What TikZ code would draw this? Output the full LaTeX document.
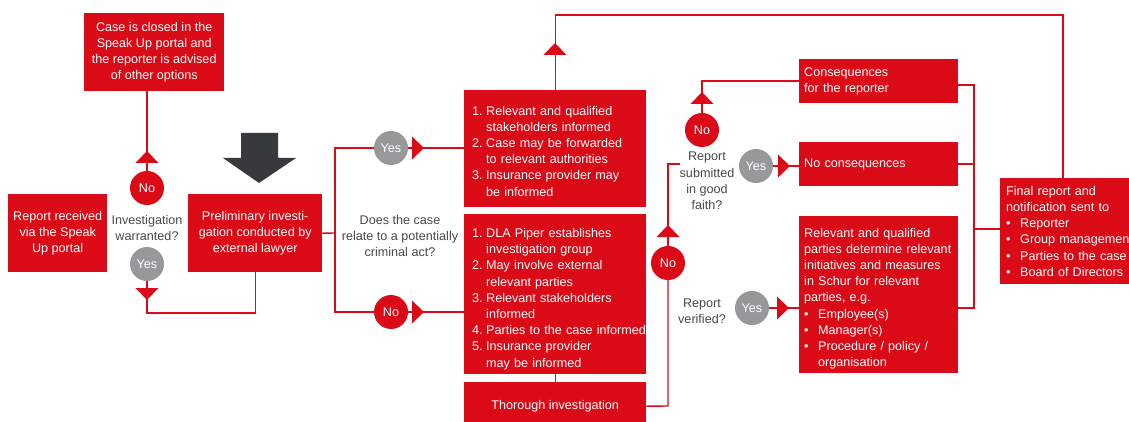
\documentclass[tikz,border=0pt]{standalone}
\usepackage{fontspec}
\setmainfont{Liberation Sans}
\usetikzlibrary{calc}
\definecolor{dlared}{RGB}{218,10,22}
\definecolor{circgray}{RGB}{150,152,154}
\definecolor{darkarrow}{RGB}{55,58,61}
\definecolor{qgray}{RGB}{72,72,72}
\newcommand{\lnum}[1]{\makebox[14pt][l]{#1}}
\newcommand{\lind}{\hspace*{14pt}}
\newcommand{\lbul}{\makebox[14pt][l]{\textbullet}}
\begin{document}
\begin{tikzpicture}[x=1pt,y=-1pt,
  txt/.style={font=\fontsize{12.6}{16.2}\selectfont},
  box/.style={txt, fill=dlared, text=white, inner sep=0pt, anchor=north west, align=center},
  lbox/.style={box, align=left, inner xsep=8pt},
  link/.style={draw=dlared, line width=1.4pt},
  ncirc/.style={circle, fill=dlared, text=white, minimum size=34pt, inner sep=0pt, txt},
  ycirc/.style={ncirc, fill=circgray},
  quest/.style={txt, text=qgray, align=center},
  tri up/.pic={\fill[dlared] (-11.5,6) -- (11.5,6) -- (0,-6) -- cycle;},
  tri down/.pic={\fill[dlared] (-11.5,-6) -- (11.5,-6) -- (0,6) -- cycle;},
  tri right/.pic={\fill[dlared] (-6,-11.5) -- (-6,11.5) -- (6,0) -- cycle;}]
\useasboundingbox (0,0) rectangle (1129,422);
\clip (0,0) rectangle (1129,422);

% boxes
\node[box, minimum width=140pt, minimum height=78pt] (closed) at (84,13) {Case is closed in the\\Speak Up portal and\\the reporter is advised\\of other options};
\node[box, minimum width=99pt, minimum height=78pt] (recv) at (8,194) {Report received\\via the Speak\\Up portal};
\node[box, minimum width=134pt, minimum height=78pt] (prelim) at (188,194) {Preliminary investi-\\gation conducted by\\external lawyer};
\node[lbox, text width=166pt, minimum height=117pt] (crim) at (464,90) {\rule{0pt}{14pt}\lnum{1.}\mbox{Relevant and qualified}\\\lind \mbox{stakeholders informed}\\\lnum{2.}\mbox{Case may be forwarded}\\\lind \mbox{to relevant authorities}\\\lnum{3.}\mbox{Insurance provider may}\\\lind be informed};
\node[lbox, text width=166pt, minimum height=160pt] (inv) at (464,214) {\rule{0pt}{19pt}\lnum{1.}\mbox{DLA Piper establishes}\\\lind \mbox{investigation group}\\\lnum{2.}\mbox{May involve external}\\\lind \mbox{relevant parties}\\\lnum{3.}\mbox{Relevant stakeholders}\\\lind informed\\\lnum{4.}\mbox{Parties to the case informed}\\\lnum{5.}\mbox{Insurance provider}\\\lind \mbox{may be informed}};
\node[box, minimum width=182pt, minimum height=48pt] (thor) at (464,382) {Thorough investigation};
\node[lbox, inner xsep=5pt, text width=149pt, minimum height=44pt] (cons) at (799,59) {Consequences\\for the reporter};
\node[lbox, inner xsep=5pt, text width=149pt, minimum height=44pt] (nocons) at (799,142) {No consequences};
\node[lbox, inner xsep=5pt, text width=149pt, minimum height=157pt] (meas) at (799,216) {\rule{0pt}{17pt}\mbox{Relevant and qualified}\\\mbox{parties determine relevant}\\\mbox{initiatives and measures}\\\mbox{in Schur for relevant}\\parties, e.g.\\\lbul Employee(s)\\\lbul Manager(s)\\\lbul \mbox{Procedure / policy /}\\\lind organisation};
\node[lbox, inner xsep=6pt, text width=150pt, minimum height=106pt] (final) at (1000,178) {Final report and\\\mbox{notification sent to}\\\lbul Reporter\\\lbul \mbox{Group management}\\\lbul \mbox{Parties to the case}\\\lbul \mbox{Board of Directors}};

% dark arrow
\fill[darkarrow] (241,133) -- (278,133) -- (278,158) -- (296,158) -- (259,183) -- (223,158) -- (241,158) -- cycle;

% questions
\node[quest] (qw) at (147,228) {Investigation\\warranted?};
\node[quest] (qc) at (400,236) {Does the case\\relate to a potentially\\criminal act?};
\node[quest] (qg) at (707,181) {Report\\submitted\\in good\\faith?};
\node[quest] (qv) at (702,311) {Report\\verified?};

% circles
\node[ncirc] (wno) at (147,188) {No};
\node[ycirc] (wyes) at (147,264) {Yes};
\node[ycirc] (cyes) at (391,148) {Yes};
\node[ncirc] (cno) at (391,312) {No};
\node[ncirc] (vno) at (668,263) {No};
\node[ycirc] (vyes) at (752,308) {Yes};
\node[ncirc] (gno) at (702,130) {No};
\node[ycirc] (gyes) at (756,166) {Yes};

% coordinates
\coordinate (w1) at (147,313);
\coordinate (split) at (335,233);
\coordinate (top2) at (1063,15);
\coordinate (t1) at (668,406);
\coordinate (t2) at (668,164);
\coordinate (t3) at (680,164);
\coordinate (b1) at (974,85);
\coordinate (b2) at (974,308);
\coordinate (b3) at (974,229);

% connectors
\draw[link] (wno) -- (wno |- closed.south);
\draw[link] (wyes) -- (w1) -| (prelim.south);
\draw[link] (prelim.east) -- (split);
\draw[link] (split) |- (cyes);
\draw[link] (cyes) -- (cyes -| crim.west);
\draw[link] (split) |- (cno);
\draw[link] (cno) -- (cno -| inv.west);
\draw[link] (crim.north) |- (top2) -- (top2 |- final.north);
\draw[link] (inv.south) -- (thor.north);
\draw[link] (thor.east) -- (t1) -- (vno);
\draw[link] (vno) -- (t2) -- (t3);
\draw[link] (vyes) -- (vyes -| meas.west);
\draw[link] (gno) |- (cons.west);
\draw[link] (gyes) -- (gyes -| nocons.west);
\draw[link] (cons.east |- b1) -- (b1) -- (b2) -- (meas.east |- b2);
\draw[link] (nocons.east) -- (nocons.east -| b1);
\draw[link] (b3) -- (b3 -| final.west);

% arrowheads
\pic at (147,157) {tri up};
\pic at (147,294) {tri down};
\pic at (418,148) {tri right};
\pic at (418,312) {tri right};
\pic at (555,49) {tri up};
\pic at (668,231) {tri up};
\pic at (783,308) {tri right};
\pic at (702,98) {tri up};
\pic at (784,166) {tri right};
\end{tikzpicture}
\end{document}
